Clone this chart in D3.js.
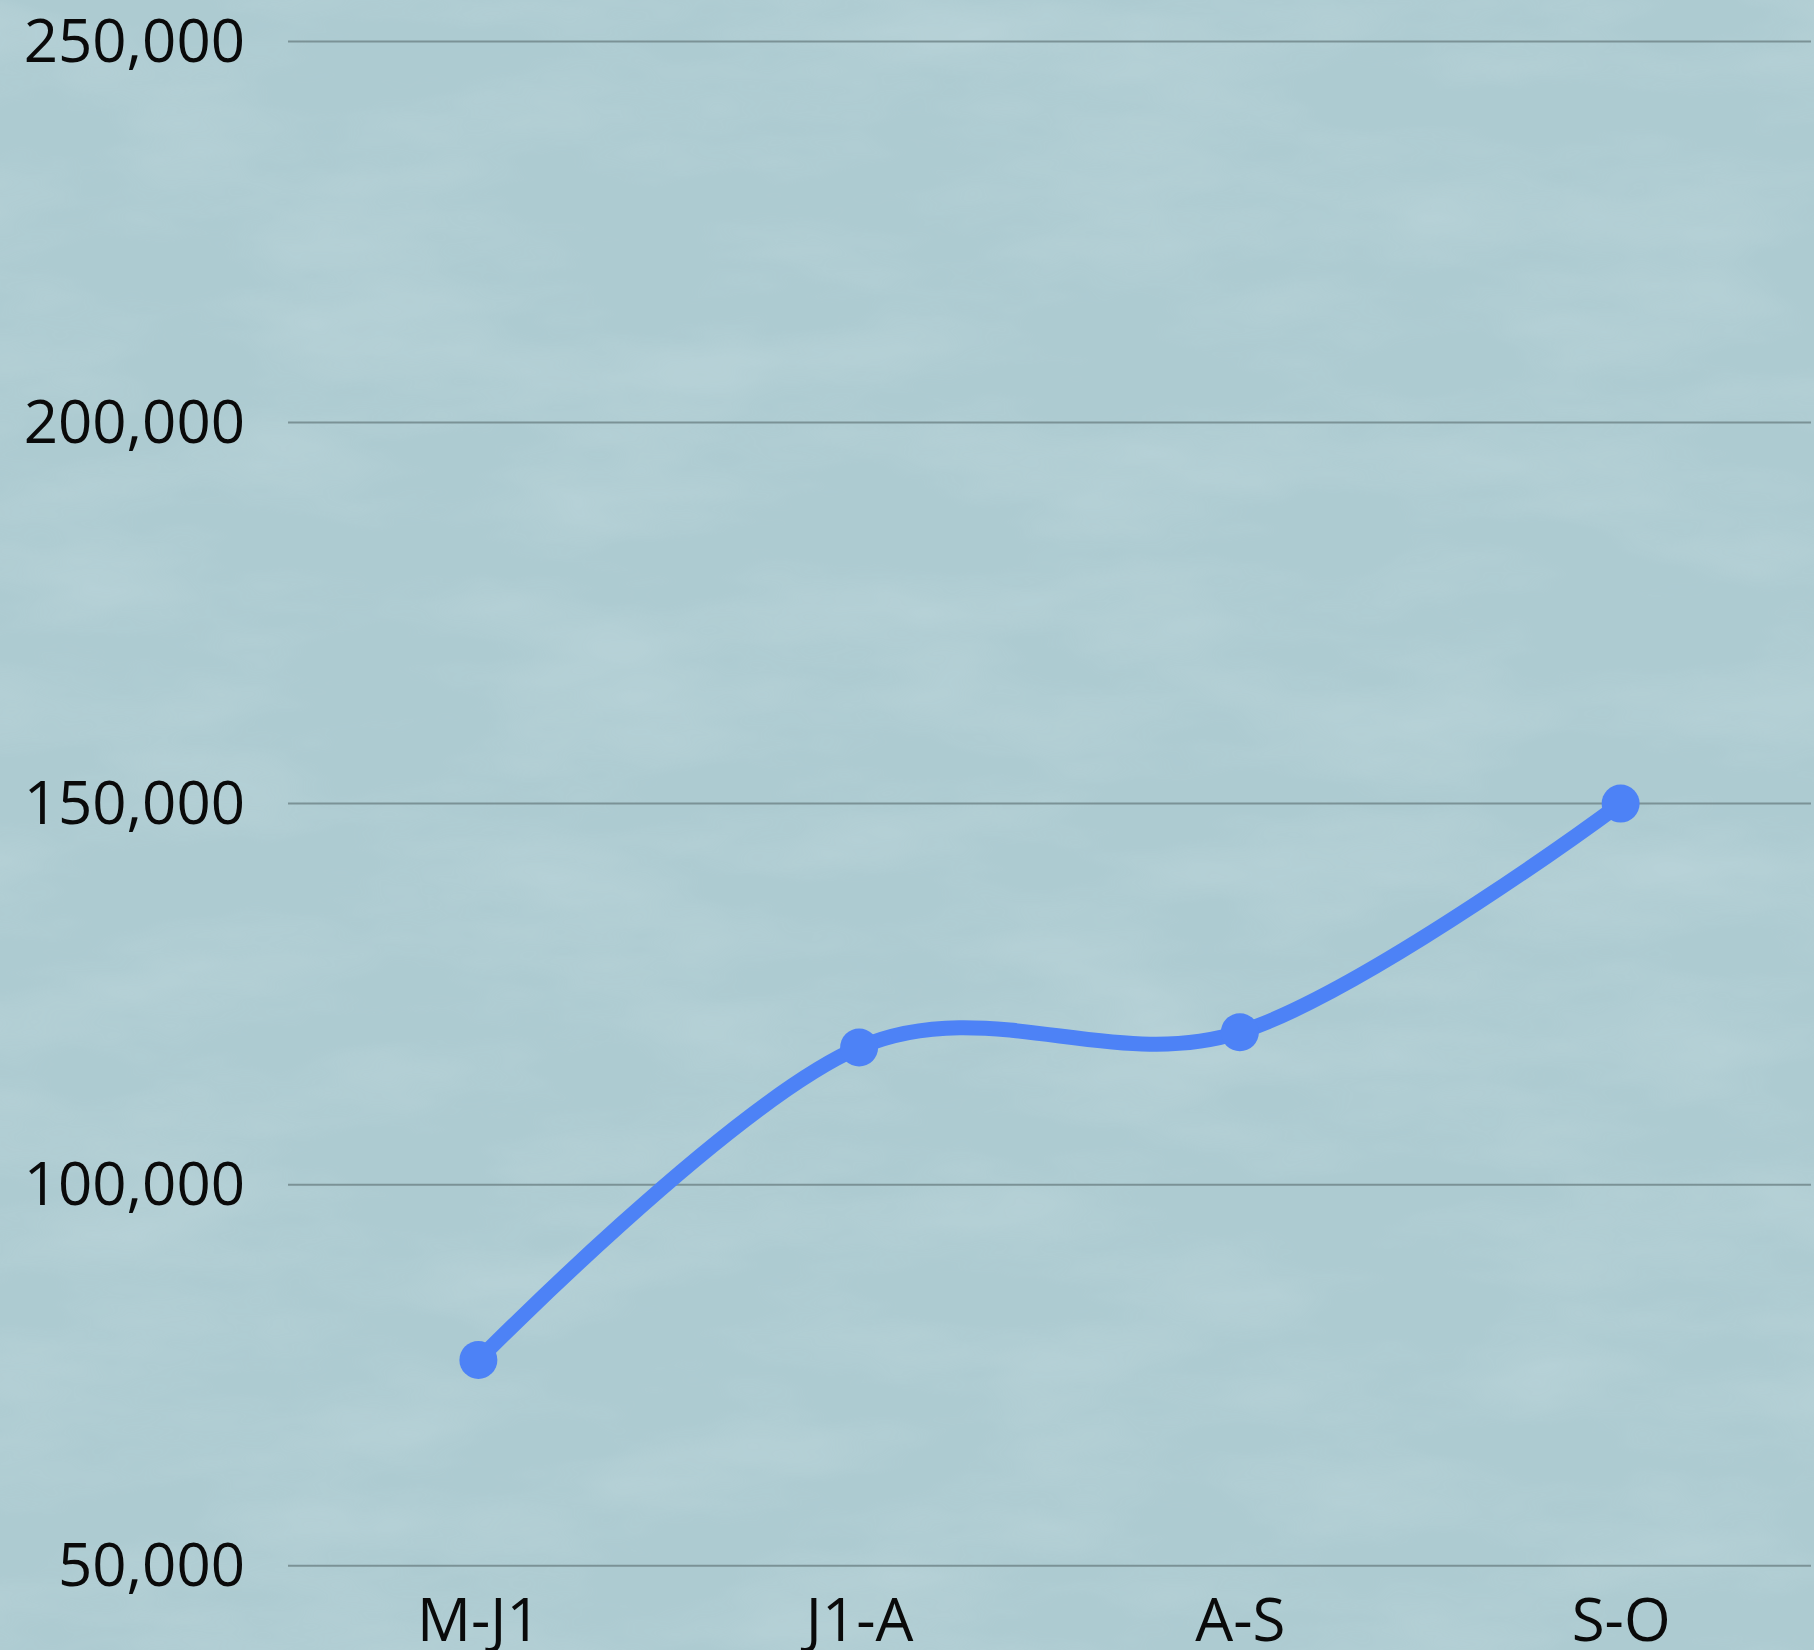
<!DOCTYPE html>
<html>
<head>
<meta charset="utf-8">
<script src="https://cdn.jsdelivr.net/npm/d3@7"></script>
<style>
  html, body { margin: 0; padding: 0; background: #accad0; }
  svg { display: block; }
  text { font-family: "Open Sans", sans-serif; fill: #0a0a0a; }
</style>
</head>
<body>
<svg id="chart" width="1814" height="1650"></svg>
<script>
const categories = ["M-J1", "J1-A", "A-S", "S-O"];
const values = [77000, 118000, 120000, 150000];
const yTicks = [50000, 100000, 150000, 200000, 250000];

const W = 1814, H = 1650;
const svg = d3.select("#chart");

// background with subtle texture
const defs = svg.append("defs");
const f = defs.append("filter").attr("id", "tex").attr("x", 0).attr("y", 0).attr("width", "100%").attr("height", "100%");
f.append("feTurbulence").attr("type", "fractalNoise").attr("baseFrequency", "0.004 0.012").attr("numOctaves", 4).attr("seed", 7).attr("result", "n");
f.append("feColorMatrix").attr("in", "n").attr("type", "matrix")
  .attr("values", "0 0 0 0 0.60  0 0 0 0 0.74  0 0 0 0 0.78  0 0 0 -1.6 1.0");
svg.append("rect").attr("width", W).attr("height", H).attr("fill", "#adcbd1");
svg.append("rect").attr("width", W).attr("height", H).attr("filter", "url(#tex)").attr("opacity", 0.4);

const x = d3.scalePoint().domain(categories).range([288, 1811]).padding(0.5);
const y = d3.scaleLinear().domain([50000, 250000]).range([1565.7, 41.5]);

// grid + y labels
const yAxis = d3.axisLeft(y).tickValues(yTicks).tickSize(0).tickPadding(0)
  .tickFormat(d3.format(","));
const gy = svg.append("g").attr("transform", "translate(245,0)").call(yAxis);
gy.select(".domain").remove();
gy.selectAll("text").attr("font-size", 60).attr("dy", "0.33em").attr("fill", "#0a0a0a")
  .attr("font-family", "'Open Sans', sans-serif");

svg.append("g").selectAll("line").data(yTicks).join("line")
  .attr("x1", 288).attr("x2", 1811)
  .attr("y1", d => y(d)).attr("y2", d => y(d))
  .attr("stroke", "#7b9296").attr("stroke-width", 2);

// x labels
const xAxis = d3.axisBottom(x).tickSize(0).tickPadding(0);
const gx = svg.append("g").attr("transform", "translate(0,1641)").call(xAxis);
gx.select(".domain").remove();
gx.selectAll("text").attr("font-size", 60).attr("dy", 0).attr("y", 0).attr("fill", "#0a0a0a")
  .attr("font-family", "'Open Sans', sans-serif");

// line
const data = categories.map((c, i) => ({ c, v: values[i] }));
const line = d3.line().x(d => x(d.c)).y(d => y(d.v)).curve(d3.curveCardinal.tension(0));
svg.append("path").datum(data).attr("d", line)
  .attr("fill", "none").attr("stroke", "#4d82f6").attr("stroke-width", 15)
  .attr("stroke-linecap", "round");

svg.append("g").selectAll("circle").data(data).join("circle")
  .attr("cx", d => x(d.c)).attr("cy", d => y(d.v)).attr("r", 19)
  .attr("fill", "#4d82f6");
</script>
</body>
</html>
